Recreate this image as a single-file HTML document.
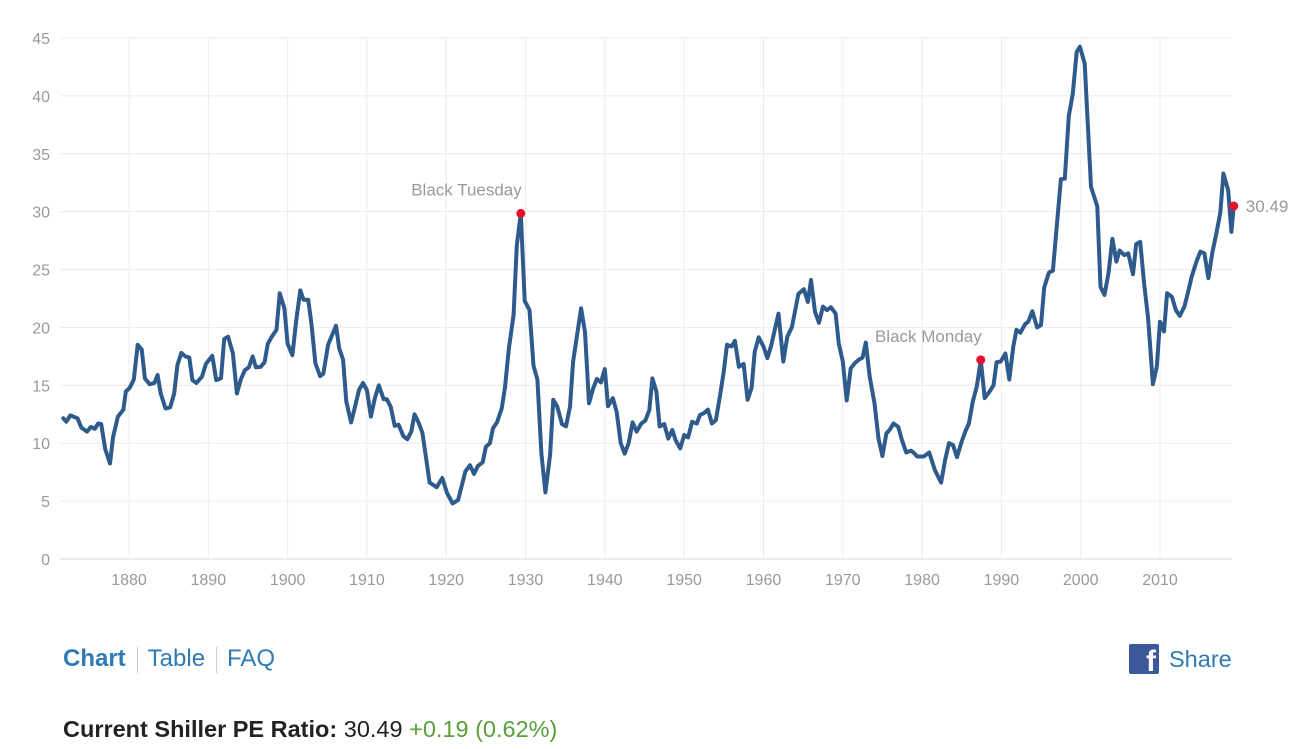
<!DOCTYPE html>
<html><head><meta charset="utf-8">
<style>
body{margin:0;background:#fff;font-family:"Liberation Sans",Arial,sans-serif;}
#wrap{position:relative;width:1308px;height:749px;overflow:hidden;}
svg text{font-family:"Liberation Sans",Arial,sans-serif;}
.tabs{position:absolute;left:63px;top:645px;font-size:24px;color:#2f7ab5;}
.tabs span{display:inline-block;}
.sep{border-left:1px solid #ccc;height:26px;vertical-align:middle;margin:0 10px 0 11px;}
.share{position:absolute;left:1129px;top:644px;font-size:23.5px;color:#2f7ab5;display:flex;align-items:center;}
.fb{width:30px;height:30px;background:#3b5998;border-radius:2px;margin-right:10px;position:relative;overflow:hidden;}
.fb span{position:absolute;right:3px;bottom:-5px;color:#fff;font-weight:bold;font-size:30px;}
.cur{position:absolute;left:63px;top:716px;font-size:23.5px;color:#222;}
</style></head><body>
<div id="wrap">
<svg id="chart" width="1308" height="620"></svg>
<div class="tabs"><span style="font-weight:bold">Chart</span><span class="sep"></span><span>Table</span><span class="sep"></span><span>FAQ</span></div>
<div class="share"><div class="fb"><span>f</span></div>Share</div>
<div class="cur"><b>Current Shiller PE Ratio:</b> 30.49 <span style="color:#5a9e3a">+0.19 (0.62%)</span></div>
</div>
<script>
const years=[1871.7,1872.1,1872.6,1873.5,1874.0,1874.7,1875.2,1875.7,1876.1,1876.5,1877.0,1877.6,1878.0,1878.6,1879.3,1879.6,1880.1,1880.6,1881.1,1881.6,1882.0,1882.6,1883.2,1883.6,1884.0,1884.6,1885.2,1885.7,1886.1,1886.6,1887.1,1887.6,1888.0,1888.5,1889.2,1889.7,1890.5,1891.0,1891.6,1892.0,1892.5,1893.1,1893.6,1894.1,1894.6,1895.1,1895.6,1896.0,1896.6,1897.1,1897.5,1898.0,1898.6,1899.0,1899.6,1900.0,1900.6,1901.1,1901.6,1902.0,1902.6,1903.0,1903.5,1904.1,1904.5,1905.1,1906.1,1906.5,1907.0,1907.4,1908.0,1908.5,1909.0,1909.5,1910.0,1910.5,1911.0,1911.5,1912.1,1912.5,1913.0,1913.5,1914.0,1914.6,1915.1,1915.6,1916.0,1916.5,1917.0,1917.4,1917.9,1918.8,1919.5,1920.1,1920.8,1921.5,1922.4,1923.0,1923.5,1924.0,1924.6,1925.0,1925.5,1925.9,1926.4,1927.0,1927.4,1927.9,1928.5,1928.9,1929.4,1929.9,1930.5,1931.0,1931.5,1932.0,1932.5,1933.1,1933.5,1934.0,1934.6,1935.1,1935.6,1936.0,1937.0,1937.5,1938.0,1938.5,1939.0,1939.5,1940.0,1940.4,1941.0,1941.5,1942.0,1942.5,1943.0,1943.5,1944.0,1944.6,1945.1,1945.6,1946.0,1946.5,1946.9,1947.5,1948.0,1948.5,1948.9,1949.5,1950.0,1950.5,1951.0,1951.6,1952.0,1952.5,1953.0,1953.5,1954.0,1954.5,1955.0,1955.4,1956.0,1956.4,1956.9,1957.5,1958.0,1958.5,1958.9,1959.4,1960.0,1960.5,1961.0,1961.5,1961.9,1962.5,1963.0,1963.6,1964.4,1965.1,1965.6,1966.0,1966.5,1967.0,1967.5,1968.0,1968.5,1969.1,1969.5,1970.0,1970.5,1971.0,1971.5,1972.0,1972.5,1972.9,1973.4,1974.0,1974.5,1975.0,1975.5,1975.9,1976.4,1977.0,1977.4,1978.0,1978.6,1978.9,1979.4,1980.2,1980.9,1981.6,1982.4,1982.9,1983.4,1983.9,1984.4,1985.0,1985.5,1985.9,1986.4,1986.9,1987.4,1987.9,1988.5,1989.0,1989.4,1989.9,1990.5,1991.0,1991.5,1991.9,1992.4,1993.0,1993.4,1993.9,1994.5,1995.0,1995.4,1996.0,1996.5,1996.9,1997.5,1998.0,1998.5,1999.0,1999.5,1999.9,2000.5,2001.3,2002.1,2002.5,2003.0,2003.5,2004.0,2004.5,2004.9,2005.5,2006.0,2006.6,2007.0,2007.5,2008.0,2008.5,2009.1,2009.6,2010.0,2010.5,2010.9,2011.5,2012.0,2012.5,2013.1,2013.5,2014.0,2014.6,2015.1,2015.6,2016.1,2016.6,2017.1,2017.6,2018.0,2018.6,2019.0,2019.3];
const peValues=[12.15,11.86,12.4,12.15,11.35,11.0,11.4,11.25,11.7,11.65,9.5,8.25,10.55,12.3,12.9,14.45,14.8,15.5,18.5,18.1,15.6,15.1,15.2,15.9,14.3,13.0,13.1,14.3,16.75,17.8,17.5,17.4,15.45,15.2,15.75,16.85,17.55,15.45,15.6,19.0,19.2,17.75,14.3,15.5,16.3,16.55,17.5,16.55,16.6,17.0,18.6,19.2,19.8,22.95,21.65,18.6,17.6,20.65,23.2,22.4,22.4,20.35,16.9,15.8,16.0,18.5,20.15,18.2,17.2,13.6,11.8,13.15,14.6,15.2,14.6,12.3,13.9,15.0,13.8,13.8,13.15,11.5,11.6,10.6,10.35,11.0,12.5,11.8,10.9,9.0,6.6,6.2,7.0,5.7,4.8,5.1,7.55,8.1,7.35,8.05,8.35,9.7,10.0,11.3,11.8,13.0,14.75,18.2,21.1,27.1,29.85,22.3,21.5,16.7,15.5,9.1,5.75,9.0,13.75,13.15,11.65,11.45,13.15,17.05,21.65,19.6,13.45,14.7,15.55,15.25,16.4,13.2,13.9,12.7,10.0,9.1,10.0,11.8,11.0,11.7,11.95,12.85,15.6,14.45,11.45,11.65,10.4,11.15,10.3,9.55,10.7,10.5,11.85,11.7,12.45,12.6,12.9,11.7,12.0,14.0,16.2,18.5,18.35,18.85,16.6,16.85,13.75,14.8,17.9,19.15,18.35,17.35,18.5,20.05,21.2,17.05,19.2,20.05,22.9,23.3,22.2,24.1,21.35,20.4,21.8,21.5,21.75,21.2,18.6,17.05,13.7,16.45,16.9,17.2,17.4,18.7,15.75,13.45,10.4,8.9,10.85,11.15,11.7,11.4,10.4,9.2,9.35,9.2,8.85,8.85,9.2,7.7,6.6,8.55,10.0,9.85,8.8,10.15,11.1,11.7,13.6,14.9,17.2,13.9,14.45,15.0,17.0,17.05,17.75,15.5,18.35,19.8,19.55,20.3,20.5,21.4,20.0,20.2,23.45,24.75,24.9,28.1,32.8,32.85,38.25,40.2,43.8,44.25,42.8,32.15,30.45,23.5,22.8,24.7,27.65,25.7,26.65,26.25,26.4,24.6,27.2,27.4,23.8,20.8,15.1,16.6,20.5,19.65,22.95,22.65,21.5,21.0,21.85,22.95,24.4,25.7,26.55,26.4,24.25,26.45,28.1,29.9,33.3,31.85,28.25,30.49];
const yTicks=[0,5,10,15,20,25,30,35,40,45];
const xTicks=[1880,1890,1900,1910,1920,1930,1940,1950,1960,1970,1980,1990,2000,2010];
const markerYears=[1929.4,1987.4,2019.3];
const markerValues=[29.85,17.2,30.49];
const markerLabels=["Black Tuesday","Black Monday","30.49"];

const NS="http://www.w3.org/2000/svg";
const svg=document.getElementById('chart');
const X=y=>129+(y-1880)*1031/130;
const Y=v=>559-v*521/45;
function mk(t,a){const e=document.createElementNS(NS,t);for(const k in a)e.setAttribute(k,a[k]);svg.appendChild(e);return e;}
yTicks.forEach(v=>{
  const l=mk('line',{x1:60,x2:1232,y1:Y(v),y2:Y(v),stroke:v===0?'#d8d8e0':'#ececec','stroke-width':1});
  
  
  const t=mk('text',{x:50,y:Y(v)+6,'text-anchor':'end','font-size':16,fill:'#999'});
  t.textContent=v;
  
  
});
xTicks.forEach(yr=>{
  const l=mk('line',{x1:X(yr),x2:X(yr),y1:Y(45),y2:Y(0),stroke:'#ececec','stroke-width':1});
  
  
  const t=mk('text',{x:X(yr),y:585,'text-anchor':'middle','font-size':16,fill:'#999'});
  t.textContent=yr;
  
  
});
let d='';
years.forEach((yr,i)=>{d+=(i?'L':'M')+X(yr).toFixed(1)+' '+Y(peValues[i]).toFixed(1);});
const path=mk('path',{d:d,fill:'none',stroke:'#2e5a8c','stroke-width':4,'stroke-linejoin':'round','stroke-linecap':'round'});


markerYears.forEach((yr,i)=>{
  const c=mk('circle',{cx:X(yr),cy:Y(markerValues[i]),r:4.5,fill:'#e8112d'});
  
  
  let t;
  if(i===2){t=mk('text',{x:X(yr)+12,y:Y(markerValues[i])+6,'font-size':17,fill:'#999'});}
  else{t=mk('text',{x:X(yr)+1,y:Y(markerValues[i])-18,'text-anchor':'end','font-size':17,fill:'#999'});}
  t.textContent=markerLabels[i];
  
  
});
</script>
</body></html>
